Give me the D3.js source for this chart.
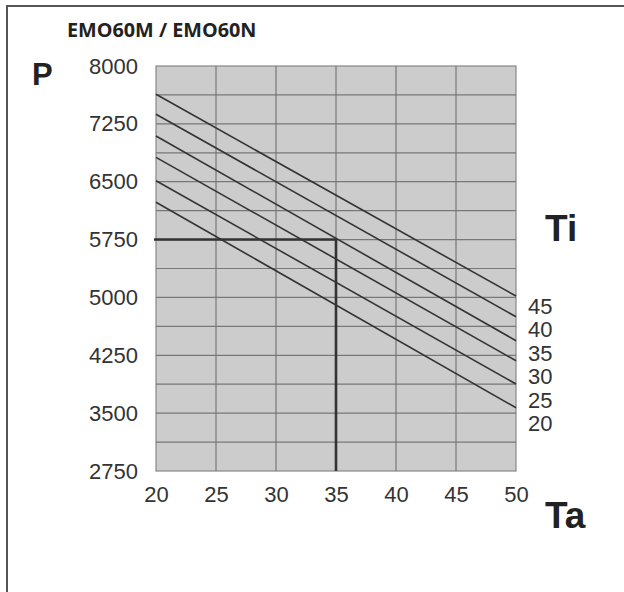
<!DOCTYPE html>
<html>
<head>
<meta charset="utf-8">
<script src="https://cdn.jsdelivr.net/npm/d3@7"></script>
<style>
  body { margin: 0; background: #fff; }
  svg text { font-family: "Liberation Sans", Arial, sans-serif; }
</style>
</head>
<body>
<svg id="chart"></svg>
<script>
// data
const title = "EMO60M / EMO60N";
const taValues = [20, 50];
const tiLabels = [45, 40, 35, 30, 25, 20];
const pTi45 = [7633, 5018];
const pTi40 = [7374, 4750];
const pTi35 = [7093, 4439];
const pTi30 = [6816, 4180];
const pTi25 = [6513, 3878];
const pTi20 = [6233, 3570];
const xTicks = [20, 25, 30, 35, 40, 45, 50];
const yTicks = [8000, 7250, 6500, 5750, 5000, 4250, 3500, 2750];
const yGrid = d3.range(2750, 8001, 375);
const opTa = 35, opP = 5750;

const series = [pTi45, pTi40, pTi35, pTi30, pTi25, pTi20];

const W = 624, H = 592;
const svg = d3.select("#chart").attr("width", W).attr("height", H);

const x = d3.scaleLinear().domain([20, 50]).range([156, 516]);
const y = d3.scaleLinear().domain([2750, 8000]).range([471, 66]);

// frame (top + left only)
svg.append("path")
  .attr("d", `M7,${H} L7,6 L${W},6`)
  .attr("fill", "none").attr("stroke", "#555").attr("stroke-width", 2);

svg.append("text").attr("x", 67).attr("y", 37)
  .style("font-family", "'Open Sans', sans-serif")
  .attr("font-weight", "bold").attr("font-size", 19.8).attr("fill", "#222")
  .text(title);

// plot background
svg.append("rect")
  .attr("x", x(20)).attr("y", y(8000))
  .attr("width", x(50) - x(20)).attr("height", y(2750) - y(8000))
  .attr("fill", "#cccccc").attr("stroke", "#888").attr("stroke-width", 1.2);

// grid
svg.append("g").selectAll("line").data(xTicks.slice(1, -1)).join("line")
  .attr("x1", d => x(d)).attr("x2", d => x(d))
  .attr("y1", y(8000)).attr("y2", y(2750))
  .attr("stroke", "#777").attr("stroke-width", 1.2);
svg.append("g").selectAll("line").data(yGrid.slice(1, -1)).join("line")
  .attr("x1", x(20)).attr("x2", x(50))
  .attr("y1", d => y(d)).attr("y2", d => y(d))
  .attr("stroke", "#777").attr("stroke-width", 1.2);

// axes labels
const yAxis = d3.axisLeft(y).tickValues(yTicks).tickFormat(d3.format("d"))
  .tickSize(0).tickPadding(18);
const gy = svg.append("g").attr("transform", `translate(${x(20)},0)`).call(yAxis);
gy.select(".domain").remove();
gy.selectAll("text").attr("font-size", 22).attr("fill", "#333")
  .style("font-family", "'Liberation Sans', Arial, sans-serif");

const xAxis = d3.axisBottom(x).tickValues(xTicks).tickSize(0).tickPadding(15);
const gx = svg.append("g").attr("transform", `translate(0,${y(2750)})`).call(xAxis);
gx.select(".domain").remove();
gx.selectAll("text").attr("font-size", 22).attr("fill", "#333")
  .style("font-family", "'Liberation Sans', Arial, sans-serif");

// Ti lines
const line = d3.line().x((d, i) => x(taValues[i])).y(d => y(d));
svg.append("g").selectAll("path").data(series).join("path")
  .attr("d", d => line(d))
  .attr("fill", "none").attr("stroke", "#333").attr("stroke-width", 1.6);

// operating point lines
svg.append("path")
  .attr("d", `M${x(20) - 2},${y(opP)} L${x(opTa)},${y(opP)} L${x(opTa)},${y(2750)}`)
  .attr("fill", "none").attr("stroke", "#333").attr("stroke-width", 2.6);

// Ti labels list
svg.append("g").selectAll("text").data(tiLabels).join("text")
  .attr("x", 528).attr("y", (d, i) => 306 + i * 23.5)
  .attr("dominant-baseline", "central")
  .attr("font-size", 22).attr("fill", "#333")
  .text(d => d);

svg.append("text").attr("x", 32).attr("y", 85)
  .attr("font-weight", "bold").attr("font-size", 31).attr("fill", "#222").text("P");
svg.append("text").attr("x", 545).attr("y", 241)
  .attr("font-weight", "bold").attr("font-size", 37).attr("fill", "#222").text("Ti");
svg.append("text").attr("x", 545).attr("y", 528)
  .attr("font-weight", "bold").attr("font-size", 37).attr("fill", "#222").text("Ta");
</script>
</body>
</html>
